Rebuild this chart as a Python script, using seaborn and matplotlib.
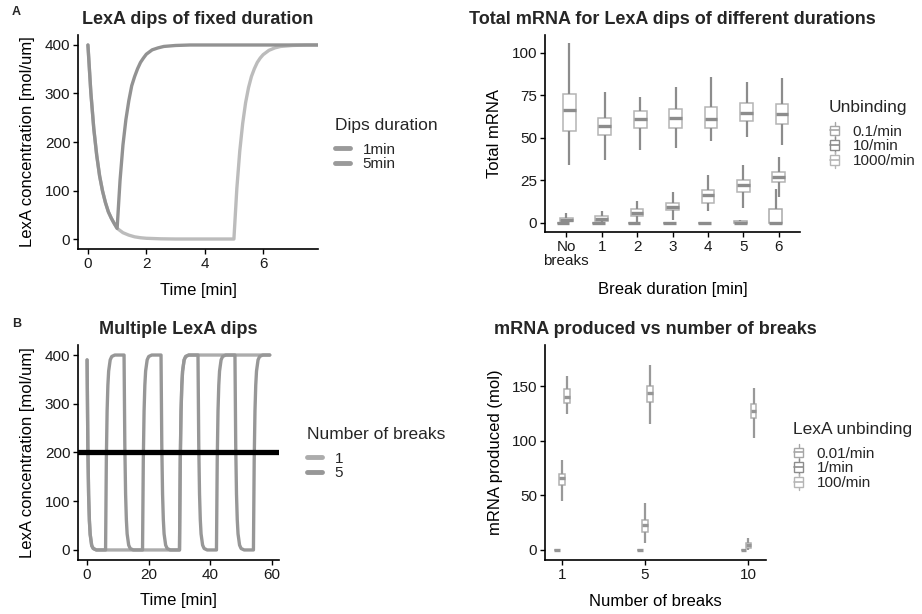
import numpy as np
import pandas as pd
import matplotlib
matplotlib.use("Agg")
import matplotlib.pyplot as plt
import seaborn as sns
from matplotlib.lines import Line2D
from matplotlib.patches import Rectangle, Patch
from matplotlib.legend_handler import HandlerBase

sns.set_theme(style="ticks")
plt.rcParams["font.family"] = ["Liberation Sans", "DejaVu Sans"]

# ---------------------------------------------------------------- data
# A (left): LexA concentration for a single dip of 1 or 5 minutes
dip_labels = ["1min", "5min"]
dip1_time = [0, 0.1, 0.2, 0.3, 0.4, 0.5, 0.6, 0.7, 0.8, 0.9, 1.0,
             1.1, 1.2, 1.3, 1.4, 1.5, 1.6, 1.7, 1.8, 1.9, 2.0,
             2.2, 2.4, 2.6, 2.8, 3.0, 3.5, 4, 5, 6, 7, 8]
dip1_conc = [400, 302, 228, 173, 130, 99, 75, 56, 43, 32, 22,
             121, 194, 246, 285, 316, 335, 351, 364, 373, 381,
             390, 394, 397, 398, 399, 400, 400, 400, 400, 400, 400]
dip5_time = [0, 0.1, 0.2, 0.3, 0.4, 0.5, 0.6, 0.7, 0.8, 0.9, 1.0,
             1.2, 1.4, 1.6, 1.8, 2.0, 2.5, 3, 4, 5.0,
             5.1, 5.2, 5.3, 5.4, 5.5, 5.6, 5.7, 5.8, 5.9, 6.0,
             6.2, 6.4, 6.6, 7.0, 7.5, 8]
dip5_conc = [400, 302, 228, 173, 130, 99, 75, 56, 43, 32, 22,
             13, 8, 4.5, 2.6, 1.5, 0.4, 0, 0, 0,
             104, 181, 238, 281, 312, 335, 351, 364, 373, 380,
             389, 394, 397, 399, 400, 400]

# A (right): total mRNA, five-number summaries (min, q1, median, q3, max)
break_labels = ["No\nbreaks", "1", "2", "3", "4", "5", "6"]
unbinding_labels = ["0.1/min", "10/min", "1000/min"]
mrna_unbind_01 = [(0, 0, 0, 0, 0), (0, 0, 0, 0, 0), (0, 0, 0, 0, 0),
                  (0, 0, 0, 0, 0), (0, 0, 0, 0, 0), (0, 0, 0, 1, 1.5),
                  (0, 0, 0, 8, 20)]
mrna_unbind_10 = [(0, 1, 2, 3, 6), (0, 1, 2.5, 4, 7), (0.5, 4, 6, 8, 13),
                  (2, 7.5, 9.5, 12, 18), (7, 12, 16.5, 19.5, 28),
                  (9, 18, 22.4, 25, 34), (15, 24, 27.3, 30, 39)]
mrna_unbind_1000 = [(34, 54, 66.4, 76, 106), (37, 52, 57, 62, 77),
                    (43, 55.8, 61, 65.6, 73.8), (44, 56, 61.5, 67, 79.7),
                    (48, 55.8, 61, 68, 86), (50.7, 60, 64.4, 70.3, 83),
                    (46, 58, 64, 70, 85)]

# B (left): LexA concentration with 1 or 5 breaks
breaks_labels = ["1", "5"]
one_break_time = [0, 0.25, 0.5, 0.75, 1, 1.5, 2, 3,
                  30, 30.25, 30.5, 30.75, 31, 31.5, 32, 33, 59.3]
one_break_conc = [390, 210, 112, 60, 32, 9, 3, 0,
                  0, 185, 285, 338, 367, 390, 397, 400, 400]
five_break_time = [0, 0.25, 0.5, 0.75, 1, 1.5, 2, 3,
                   6, 6.25, 6.5, 6.75, 7, 7.5, 8, 9,
                   12, 12.25, 12.5, 12.75, 13, 13.5, 14, 15,
                   18, 18.25, 18.5, 18.75, 19, 19.5, 20, 21,
                   24, 24.25, 24.5, 24.75, 25, 25.5, 26, 27,
                   30, 30.25, 30.5, 30.75, 31, 31.5, 32, 33,
                   36, 36.25, 36.5, 36.75, 37, 37.5, 38, 39,
                   42, 42.25, 42.5, 42.75, 43, 43.5, 44, 45,
                   48, 48.25, 48.5, 48.75, 49, 49.5, 50, 51,
                   54, 54.25, 54.5, 54.75, 55, 55.5, 56, 57,
                   59.3]
five_break_conc = [390, 210, 112, 60, 32, 9, 3, 0,
                   0, 185, 285, 338, 367, 390, 397, 400,
                   400, 215, 115, 62, 33, 10, 3, 0,
                   0, 185, 285, 338, 367, 390, 397, 400,
                   400, 215, 115, 62, 33, 10, 3, 0,
                   0, 185, 285, 338, 367, 390, 397, 400,
                   400, 215, 115, 62, 33, 10, 3, 0,
                   0, 185, 285, 338, 367, 390, 397, 400,
                   400, 215, 115, 62, 33, 10, 3, 0,
                   0, 185, 285, 338, 367, 390, 397, 400,
                   400]
threshold = 200

# B (right): mRNA produced, five-number summaries (min, q1, median, q3, max)
n_breaks = [1, 5, 10]
lexa_labels = ["0.01/min", "1/min", "100/min"]
prod_unbind_001 = [(0, 0, 0, 0, 0), (0, 0, 0, 0, 0), (0, 0, 0, 0, 0)]
prod_unbind_1 = [(44.7, 59.4, 65.8, 69.8, 82.6), (6, 16.3, 22.7, 27.5, 43),
                 (0, 2, 4.5, 6, 11)]
prod_unbind_100 = [(125, 134.7, 140.2, 148, 160),
                   (115.4, 135.6, 143.9, 150, 170),
                   (103, 120.6, 127.6, 133.8, 149)]

# ---------------------------------------------------------------- style
W, H = 922, 614
TICK_FS = 11
LABEL_FS = 12
TITLE_FS = 13
LEG_TITLE_FS = 12.5
LEG_FS = 11

fig = plt.figure(figsize=(W / 100, H / 100), dpi=100)
fig.patch.set_facecolor("white")


def px_axes(left, top, right, bottom):
    return fig.add_axes([left / W, 1 - bottom / H, (right - left) / W,
                         (bottom - top) / H])


def style_axes(ax):
    for side in ("top", "right"):
        ax.spines[side].set_visible(False)
    for side in ("left", "bottom"):
        ax.spines[side].set_linewidth(1.2)
        ax.spines[side].set_color("black")
    ax.tick_params(direction="out", length=3.5, width=1.0, color="black",
                   labelsize=TICK_FS, labelcolor="#1a1a1a", pad=2)
    ax.set_facecolor("white")
    ax.grid(False)


def place_labels(ax, xlabel, ylabel, xlab_y, ylab_x, box):
    left, top, right, bottom = box
    ax.set_xlabel(xlabel, fontsize=LABEL_FS, color="black")
    ax.set_ylabel(ylabel, fontsize=LABEL_FS, color="black")
    ax.xaxis.label.set_va("center")
    ax.yaxis.label.set_va("center")
    ax.xaxis.set_label_coords(0.5, -(xlab_y - bottom) / (bottom - top))
    ax.yaxis.set_label_coords(-(left - ylab_x) / (right - left), 0.5)


class BoxKey(HandlerBase):
    """Small boxplot glyph used as a legend key."""

    def create_artists(self, legend, orig_handle, xdescent, ydescent,
                       width, height, fontsize, trans):
        col = orig_handle.get_edgecolor()
        cx = width * 0.5 - xdescent
        bw = width * 0.75
        y0 = -ydescent
        whisk = Line2D([cx, cx], [y0 - 0.25 * height, y0 + 1.25 * height],
                       color=col, lw=1.0, transform=trans)
        box = Rectangle((cx - bw / 2, y0 + 0.05 * height), bw, 0.9 * height,
                        facecolor="white", edgecolor=col, lw=1.0,
                        transform=trans)
        med = Line2D([cx - bw / 2, cx + bw / 2], [y0 + 0.5 * height] * 2,
                     color=col, lw=1.2, transform=trans)
        return [whisk, box, med]


def add_legend(handles, labels, title, x, y, handler=None, handlelength=1.4):
    kw = dict(loc="upper left", bbox_to_anchor=(x / W, 1 - y / H),
              bbox_transform=fig.transFigure, frameon=False, borderpad=0,
              borderaxespad=0, fontsize=LEG_FS, title=title,
              title_fontsize=LEG_TITLE_FS, alignment="left",
              handlelength=handlelength, handletextpad=0.8,
              labelspacing=0.05)
    if handler is not None:
        kw["handler_map"] = {Patch: handler}
    leg = fig.legend(handles, labels, **kw)
    leg._legend_box.sep = 7
    return leg


def summaries_frame(summaries, positions):
    rows = []
    for pos, stats in zip(positions, summaries):
        for v in stats:
            rows.append({"pos": pos, "value": v})
    return pd.DataFrame(rows)


def draw_boxes(ax, summaries, positions, box_width, edge, whisker, median):
    df = summaries_frame(summaries, positions)
    spacing = np.min(np.diff(np.unique(positions))) if len(positions) > 1 else 1
    sns.boxplot(data=df, x="pos", y="value", orient="x", native_scale=True,
                width=box_width / spacing, color="white", linecolor=edge,
                linewidth=1.1, whis=(0, 100), showfliers=False,
                showcaps=False, saturation=1, ax=ax,
                medianprops={"color": median, "linewidth": 2.4},
                whiskerprops={"color": whisker, "linewidth": 1.6})


# ---------------------------------------------------------------- A left
box_tl = (78, 35, 318, 249)
ax1 = px_axes(*box_tl)
dip_df = pd.concat([
    pd.DataFrame({"time": dip5_time, "conc": dip5_conc, "dur": dip_labels[1]}),
    pd.DataFrame({"time": dip1_time, "conc": dip1_conc, "dur": dip_labels[0]}),
])
dip_colors = {dip_labels[0]: "#929292", dip_labels[1]: "#bcbcbc"}
sns.lineplot(data=dip_df, x="time", y="conc", hue="dur",
             hue_order=[dip_labels[1], dip_labels[0]], palette=dip_colors,
             estimator=None, sort=False, linewidth=2.4, legend=False, ax=ax1)
style_axes(ax1)
ax1.set_xlim(-0.34, 7.88)
ax1.set_ylim(-20.6, 420.6)
ax1.set_xticks([0, 2, 4, 6])
ax1.set_yticks([0, 100, 200, 300, 400])
ax1.set_title("LexA dips of fixed duration", fontsize=TITLE_FS,
              fontweight="bold", pad=8)
place_labels(ax1, "Time [min]", "LexA concentration [mol/um]", 290, 28, box_tl)
add_legend([Line2D([], [], color="#9a9a9a", lw=3.5) for _ in dip_labels],
           dip_labels, "Dips duration", 335, 118, handlelength=1.0)

# ---------------------------------------------------------------- A right
box_tr = (545, 35, 800, 232)
ax2 = px_axes(*box_tr)
cat_pos = np.arange(len(break_labels))
tr_offsets = [-0.09, 0.0, 0.09]
tr_series = [mrna_unbind_01, mrna_unbind_10, mrna_unbind_1000]
tr_edges = ["#a9a9a9", "#b4b4b4", "#b4b4b4"]
tr_keys = ["#a6a6a6", "#8c8c8c", "#b5b5b5"]
for series, off, edge in zip(tr_series, tr_offsets, tr_edges):
    draw_boxes(ax2, series, cat_pos + off, 0.36, edge, "#8c8c8c", "#8c8c8c")
style_axes(ax2)
ax2.set_xlim(-0.6, 6.6)
ax2.set_ylim(-5.3, 110.5)
ax2.set_xticks(cat_pos)
ax2.set_xticklabels(break_labels, linespacing=1.05)
ax2.set_yticks([0, 25, 50, 75, 100])
ax2.set_title("Total mRNA for LexA dips of different durations",
              fontsize=TITLE_FS, fontweight="bold", pad=8)
place_labels(ax2, "Break duration [min]", "Total mRNA", 290, 494, box_tr)
add_legend([Patch(edgecolor=c, facecolor="white") for c in tr_keys],
           unbinding_labels, "Unbinding", 829, 100, handler=BoxKey(),
           handlelength=0.75)

# ---------------------------------------------------------------- B left
box_bl = (78, 345, 279, 560)
ax3 = px_axes(*box_bl)
brk_df = pd.concat([
    pd.DataFrame({"time": one_break_time, "conc": one_break_conc,
                  "n": breaks_labels[0]}),
    pd.DataFrame({"time": five_break_time, "conc": five_break_conc,
                  "n": breaks_labels[1]}),
])
brk_colors = {breaks_labels[0]: "#acacac", breaks_labels[1]: "#979797"}
sns.lineplot(data=brk_df, x="time", y="conc", hue="n",
             hue_order=breaks_labels, palette=brk_colors, estimator=None,
             sort=False, linewidth=2.4, legend=False, ax=ax3)
ax3.axhline(threshold, color="black", linewidth=3.8, zorder=5)
style_axes(ax3)
ax3.set_xlim(-2.95, 62.3)
ax3.set_ylim(-20.6, 420.6)
ax3.set_xticks([0, 20, 40, 60])
ax3.set_yticks([0, 100, 200, 300, 400])
ax3.set_title("Multiple LexA dips", fontsize=TITLE_FS, fontweight="bold",
              pad=8)
place_labels(ax3, "Time [min]", "LexA concentration [mol/um]", 600, 28, box_bl)
add_legend([Line2D([], [], color=brk_colors[k], lw=3.5) for k in breaks_labels],
           breaks_labels, "Number of breaks", 307, 427, handlelength=1.0)

# ---------------------------------------------------------------- B right
box_br = (545, 345, 766, 560)
ax4 = px_axes(*box_br)
br_offsets = [-0.24, 0.0, 0.25]
br_series = [prod_unbind_001, prod_unbind_1, prod_unbind_100]
br_keys = ["#a6a6a6", "#8c8c8c", "#b5b5b5"]
for series, off in zip(br_series, br_offsets):
    draw_boxes(ax4, series, np.array(n_breaks) + off, 0.27, "#b0b0b0",
               "#999999", "#959595")
style_axes(ax4)
ax4.set_xlim(0.19, 10.85)
ax4.set_ylim(-9.2, 188)
ax4.set_xticks(n_breaks)
ax4.set_xticklabels([str(n) for n in n_breaks])
ax4.set_yticks([0, 50, 100, 150])
ax4.set_title("mRNA produced vs number of breaks", fontsize=TITLE_FS,
              fontweight="bold", pad=8)
place_labels(ax4, "Number of breaks", "mRNA produced (mol)", 602, 495, box_br)
add_legend([Patch(edgecolor=c, facecolor="white") for c in br_keys],
           lexa_labels, "LexA unbinding", 793, 422, handler=BoxKey(),
           handlelength=0.75)

# panel tags
fig.text(12 / W, 1 - 6 / H, "A", fontsize=9, fontweight="bold", va="top")
fig.text(12 / W, 1 - 318 / H, "B", fontsize=9, fontweight="bold", va="top")

fig.savefig("out.png", dpi=100, facecolor="white")
